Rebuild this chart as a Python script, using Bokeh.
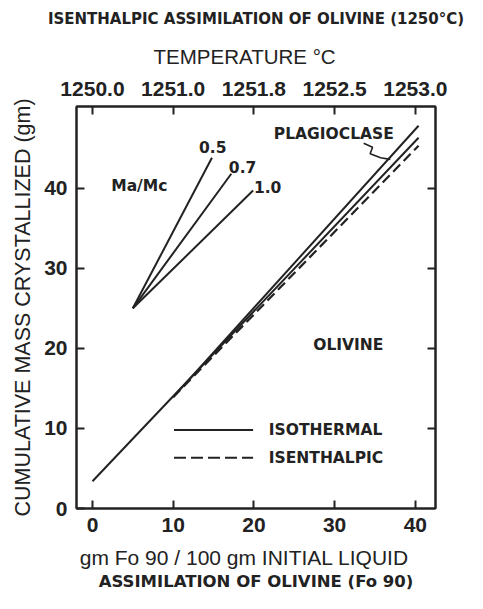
from bokeh.plotting import figure
from bokeh.models import LinearAxis, FixedTicker, Range1d
from bokeh.core.properties import value
from bokeh.embed import file_html
from bokeh.resources import INLINE

# ---------------- data ----------------
x_ticks = [0, 10, 20, 30, 40]
y_ticks = [0, 10, 20, 30, 40]
right_ticks = [10, 20, 30, 40]
temp_labels = ["1250.0", "1251.0", "1251.8", "1252.5", "1253.0"]

# isothermal (solid) main line
iso_x = [0, 40.4]
iso_y = [3.4, 46.3]
# upper solid line (plagioclase branch)
plag_x = [10, 40.4]
plag_y = [13.9, 47.8]
# isenthalpic (dashed)
isen_x = [10, 40.4]
isen_y = [13.9, 45.3]

# Ma/Mc fan
fan_origin = (5.0, 25.0)
fan_ratios = ["0.5", "0.7", "1.0"]
fan_end_x = [14.8, 17.2, 19.9]
fan_end_y = [43.8, 41.8, 39.7]
fan_label_x = [14.9, 18.6, 21.7]
fan_label_y = [45.1, 42.6, 40.2]

# plagioclase pointer squiggle
squig_x = [33.6, 34.7, 34.4, 35.7, 36.9]
squig_y = [45.6, 45.1, 44.3, 43.8, 43.6]

# annotation labels
ann_text = ["Ma/Mc", "PLAGIOCLASE", "OLIVINE"]
ann_x = [5.8, 29.9, 31.7]
ann_y = [40.3, 46.8, 20.4]

# legend
leg_names = ["ISOTHERMAL", "ISENTHALPIC"]
leg_line_x = [10.1, 19.9]
leg_line_y = [9.8, 6.35]
leg_text_x = 21.85

NB = "\u00a0"
title_top = "ISENTHALPIC ASSIMILATION OF OLIVINE (1250°C)"
temp_title = "TEMPERATURE °C" + NB * 4
x_title = "gm Fo 90 / 100 gm INITIAL LIQUID" + NB * 4
title_bottom = "ASSIMILATION OF OLIVINE (Fo 90)"
y_title = "CUMULATIVE MASS CRYSTALLIZED (gm)"

INK = "#222222"
BOLD_FONT = value("DejaVu Sans")
AX_FONT = "Liberation Sans"

p = figure(width=467, height=593, x_range=Range1d(-1.98, 42.5), y_range=Range1d(0, 50.2),
           output_backend="svg", toolbar_location=None, title=None,
           min_border_left=76, min_border_right=32, min_border_top=106, min_border_bottom=85)
p.xgrid.visible = False
p.ygrid.visible = False
p.outline_line_color = INK
p.outline_line_width = 2
p.background_fill_color = "white"
p.border_fill_color = "white"


def style_axis(ax, ticks, size="21px"):
    ax.ticker = FixedTicker(ticks=ticks)
    ax.minor_tick_line_color = None
    ax.major_tick_in = 8
    ax.major_tick_out = 0
    ax.major_tick_line_width = 2
    ax.major_tick_line_color = INK
    ax.axis_line_width = 2
    ax.axis_line_color = INK
    ax.major_label_text_font = AX_FONT
    ax.major_label_text_font_size = size
    ax.major_label_text_font_style = "bold"
    ax.major_label_text_color = INK
    ax.axis_label_text_font = AX_FONT
    ax.axis_label_text_font_style = "normal"
    ax.axis_label_text_color = INK


def title_axis(text, size, standoff):
    ax = LinearAxis(ticker=FixedTicker(ticks=[]))
    ax.axis_line_color = None
    ax.major_tick_line_color = None
    ax.minor_tick_line_color = None
    ax.major_tick_in = 0
    ax.major_tick_out = 0
    ax.minor_tick_in = 0
    ax.minor_tick_out = 0
    ax.major_label_standoff = 0
    ax.major_label_text_font_size = "1px"
    ax.major_label_text_color = None
    ax.axis_label = text
    ax.axis_label_text_font = "DejaVu Sans"
    ax.axis_label_text_font_style = "bold"
    ax.axis_label_text_font_size = size
    ax.axis_label_text_color = INK
    ax.axis_label_standoff = standoff
    return ax


xa = p.xaxis[0]
style_axis(xa, x_ticks)
xa.major_label_standoff = 9
xa.axis_label = x_title
xa.axis_label_text_font_size = "21px"
xa.axis_label_standoff = 11

ya = p.yaxis[0]
style_axis(ya, y_ticks)
ya.major_label_standoff = 9
ya.axis_label = y_title
ya.axis_label_text_font_size = "21.5px"
ya.axis_label_standoff = 6

top = LinearAxis()
style_axis(top, x_ticks)
top.major_label_overrides = {t: s for t, s in zip(x_ticks, temp_labels)}
top.major_label_standoff = 11
top.axis_label = temp_title
top.axis_label_text_font_size = "20.5px"
top.axis_label_standoff = 11
p.add_layout(top, "above")
p.add_layout(title_axis(title_top, "15px", 14), "above")

right = LinearAxis()
style_axis(right, right_ticks, size="8px")
right.major_label_text_color = None
right.major_label_standoff = 0
p.add_layout(right, "right")

p.add_layout(title_axis(title_bottom, "16.5px", 0), "below")

# data lines
p.line(iso_x, iso_y, line_color=INK, line_width=2)
p.line(plag_x, plag_y, line_color=INK, line_width=2)
p.line(isen_x, isen_y, line_color=INK, line_width=2.2, line_dash="10 5")

for ex, ey in zip(fan_end_x, fan_end_y):
    p.line([fan_origin[0], ex], [fan_origin[1], ey], line_color=INK, line_width=2)

p.line(squig_x, squig_y, line_color=INK, line_width=1.6)

txt = dict(text_font=BOLD_FONT, text_font_style="bold", text_font_size="15.5px",
           text_color=INK, text_baseline="middle")
p.text(x=fan_label_x, y=fan_label_y, text=fan_ratios, text_align="center", **txt)
p.text(x=ann_x, y=ann_y, text=ann_text, text_align="center", **txt)

# legend
p.line(leg_line_x, [leg_line_y[0]] * 2, line_color=INK, line_width=2)
p.line(leg_line_x, [leg_line_y[1]] * 2, line_color=INK, line_width=2, line_dash="12 5")
p.text(x=[leg_text_x] * 2, y=leg_line_y, text=leg_names, text_align="left", **txt)

open("out.html", "w").write(file_html(p, INLINE))
